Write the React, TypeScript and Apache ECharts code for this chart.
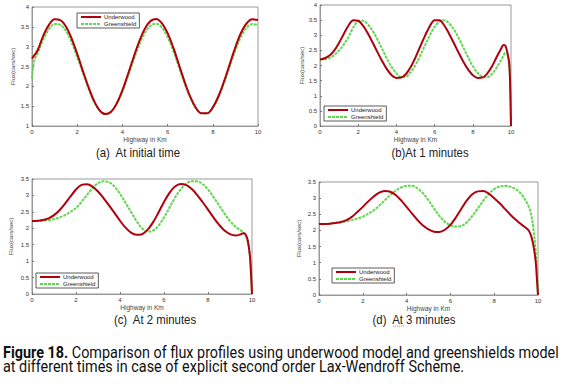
import React, { useEffect, useRef } from "react";
import * as echarts from "echarts";

const X_A = [0, 0.1, 0.25, 0.5, 0.75, 1, 1.25, 1.5, 1.75, 2, 2.25, 2.5, 2.75, 3, 3.25, 3.5, 3.75, 4, 4.25, 4.5, 4.75, 5, 5.25, 5.5, 5.75, 6, 6.25, 6.5, 6.75, 7, 7.25, 7.5, 7.75, 8, 8.25, 8.5, 8.75, 9, 9.25, 9.5, 9.75, 10];
const UNDERWOOD_A = [2.70, 2.78, 2.91, 3.28, 3.55, 3.69, 3.67, 3.51, 3.21, 2.82, 2.39, 1.98, 1.63, 1.39, 1.30, 1.36, 1.57, 1.90, 2.31, 2.74, 3.14, 3.46, 3.65, 3.70, 3.59, 3.34, 2.98, 2.55, 2.12, 1.74, 1.46, 1.32, 1.32, 1.47, 1.75, 2.13, 2.56, 2.99, 3.35, 3.59, 3.69, 3.67];
const GREENSHIELD_A = [2.20, 2.66, 2.83, 3.18, 3.44, 3.57, 3.55, 3.40, 3.11, 2.74, 2.34, 1.95, 1.61, 1.39, 1.30, 1.36, 1.56, 1.87, 2.26, 2.67, 3.05, 3.35, 3.53, 3.58, 3.48, 3.24, 2.90, 2.49, 2.08, 1.72, 1.45, 1.32, 1.32, 1.46, 1.73, 2.09, 2.50, 2.91, 3.25, 3.48, 3.57, 3.55];

const X_T = [0, 0.25, 0.5, 0.75, 1, 1.25, 1.5, 1.75, 2, 2.25, 2.5, 2.75, 3, 3.25, 3.5, 3.75, 4, 4.25, 4.5, 4.75, 5, 5.25, 5.5, 5.75, 6, 6.25, 6.5, 6.75, 7, 7.25, 7.5, 7.75, 8, 8.25, 8.5, 8.75, 9, 9.25, 9.5, 9.6, 9.7, 9.8, 9.9, 9.95, 10];
const UNDERWOOD_B = [2.20, 2.24, 2.33, 2.50, 2.75, 3.05, 3.33, 3.50, 3.48, 3.32, 3.07, 2.77, 2.45, 2.15, 1.88, 1.68, 1.59, 1.60, 1.72, 1.95, 2.27, 2.63, 2.99, 3.30, 3.50, 3.50, 3.33, 3.06, 2.75, 2.43, 2.13, 1.87, 1.68, 1.59, 1.60, 1.73, 1.97, 2.28, 2.58, 2.68, 2.66, 2.45, 2.10, 1.50, 0];
const GREENSHIELD_B = [2.20, 2.21, 2.25, 2.35, 2.50, 2.70, 2.95, 3.27, 3.46, 3.48, 3.36, 3.15, 2.87, 2.55, 2.23, 1.95, 1.74, 1.62, 1.63, 1.78, 2.02, 2.33, 2.67, 3.00, 3.28, 3.45, 3.50, 3.40, 3.20, 2.92, 2.60, 2.28, 1.98, 1.76, 1.63, 1.61, 1.72, 1.93, 2.20, 2.32, 2.42, 2.40, 2.10, 1.50, 0];
const UNDERWOOD_C = [2.22, 2.23, 2.25, 2.30, 2.40, 2.55, 2.75, 2.97, 3.18, 3.32, 3.34, 3.27, 3.12, 2.92, 2.70, 2.47, 2.23, 2.02, 1.87, 1.80, 1.82, 1.95, 2.18, 2.48, 2.80, 3.08, 3.27, 3.35, 3.32, 3.20, 3.02, 2.80, 2.57, 2.33, 2.11, 1.93, 1.82, 1.78, 1.82, 1.85, 1.82, 1.65, 1.20, 0.70, 0];
const GREENSHIELD_C = [2.22, 2.22, 2.23, 2.25, 2.28, 2.33, 2.40, 2.50, 2.62, 2.80, 3.02, 3.22, 3.37, 3.43, 3.40, 3.27, 3.05, 2.78, 2.50, 2.22, 2.00, 1.90, 1.93, 2.08, 2.33, 2.63, 2.93, 3.18, 3.35, 3.43, 3.43, 3.35, 3.18, 2.95, 2.70, 2.45, 2.22, 2.05, 1.93, 1.88, 1.80, 1.62, 1.20, 0.70, 0];
const UNDERWOOD_D = [2.20, 2.20, 2.21, 2.23, 2.26, 2.32, 2.42, 2.57, 2.73, 2.90, 3.05, 3.17, 3.22, 3.20, 3.10, 2.93, 2.73, 2.52, 2.32, 2.15, 2.03, 1.96, 1.95, 2.02, 2.17, 2.40, 2.67, 2.93, 3.12, 3.21, 3.22, 3.14, 3.00, 2.84, 2.66, 2.48, 2.32, 2.18, 2.05, 1.97, 1.80, 1.50, 1.00, 0.50, 0];
const GREENSHIELD_D = [2.20, 2.20, 2.21, 2.23, 2.25, 2.28, 2.32, 2.37, 2.43, 2.52, 2.62, 2.77, 2.93, 3.10, 3.23, 3.33, 3.38, 3.38, 3.30, 3.15, 2.93, 2.68, 2.45, 2.27, 2.16, 2.12, 2.14, 2.25, 2.45, 2.68, 2.92, 3.13, 3.28, 3.36, 3.38, 3.35, 3.27, 3.12, 2.85, 2.70, 2.45, 2.00, 1.30, 0.70, 0];

const SERIES_NAMES = ["Underwood", "Greenshield"];
const X_NAME = "Highway in Km";
const Y_NAME = "Flux(cars/sec)";
const PANEL_CAPTIONS = ["(a)  At initial time", "(b)At 1 minutes", "(c)  At 2 minutes", "(d)  At 3 minutes"];
const Y_RANGES = [[1, 4], [0, 4], [0, 3.5], [0, 3.5]];
const FIG_TITLE = "Figure 18.";
const FIG_LINE1 = " Comparison of flux profiles using underwood model and greenshields model";
const FIG_LINE2 = "at different times in case of explicit second order Lax-Wendroff Scheme.";

const RED = "#b0000e";
const GREEN = "#62d852";
const SANS = "'Liberation Sans', Arial, sans-serif";
const CAP = "Roboto, 'Liberation Sans', sans-serif";

const pairs = (xs: number[], ys: number[]) => xs.map((x, i) => [x, ys[i]]);

export default function App() {
  const ref = useRef<HTMLDivElement>(null);
  useEffect(() => {
    if (!ref.current) return;
    const chart = echarts.init(ref.current, undefined, { renderer: "svg" });
    const grids = [
      { left: 32, top: 7, width: 226, height: 119 },
      { left: 320, top: 5, width: 191, height: 121 },
      { left: 32, top: 179, width: 220, height: 115 },
      { left: 319, top: 182, width: 219, height: 113 },
    ];
    const yGaps = [16, 14, 18, 17];
    const legends = [
      { left: 77, top: 13 },
      { left: 324, top: 106 },
      { left: 36, top: 273 },
      { left: 332, top: 268 },
    ];
    const panelData = [
      [pairs(X_A, UNDERWOOD_A), pairs(X_A, GREENSHIELD_A)],
      [pairs(X_T, UNDERWOOD_B), pairs(X_T, GREENSHIELD_B)],
      [pairs(X_T, UNDERWOOD_C), pairs(X_T, GREENSHIELD_C)],
      [pairs(X_T, UNDERWOOD_D), pairs(X_T, GREENSHIELD_D)],
    ];
    const captionPos = [
      [138, 152],
      [430, 152],
      [155, 319],
      [414, 319],
    ];
    const series: any[] = [];
    panelData.forEach((pd, i) => {
      series.push({
        type: "line",
        name: SERIES_NAMES[0],
        xAxisIndex: i,
        yAxisIndex: i,
        data: pd[0],
        showSymbol: false,
        symbol: "none",
        smooth: 0.35,
        lineStyle: { color: RED, width: 2 },
        itemStyle: { color: RED },
        z: 3,
      });
      series.push({
        type: "line",
        name: SERIES_NAMES[1],
        xAxisIndex: i,
        yAxisIndex: i,
        data: pd[1],
        showSymbol: false,
        symbol: "none",
        smooth: 0.35,
        lineStyle: { color: GREEN, width: 2, type: [3, 1] },
        itemStyle: { color: GREEN },
        z: 2,
      });
    });

    const option: any = {
      animation: false,
      backgroundColor: "#ffffff",
      grid: grids.map((g) => ({ ...g, show: true, borderColor: "#9a9a9a", borderWidth: 1, backgroundColor: "#fff" })),
      xAxis: grids.map((_, i) => ({
        type: "value",
        gridIndex: i,
        min: 0,
        max: 10,
        interval: 2,
        name: X_NAME,
        nameLocation: "middle",
        nameGap: 9,
        nameTextStyle: { fontSize: 6.5, color: "#444", fontFamily: SANS },
        axisLine: { show: true, lineStyle: { color: "#9a9a9a" } },
        axisTick: { show: true, inside: true, length: 2, lineStyle: { color: "#777" } },
        axisLabel: { fontSize: 6, color: "#333", margin: 3, fontFamily: SANS },
        splitLine: { show: false },
      })),
      yAxis: grids.map((_, i) => ({
        type: "value",
        gridIndex: i,
        min: Y_RANGES[i][0],
        max: Y_RANGES[i][1],
        interval: 0.5,
        name: Y_NAME,
        nameLocation: "middle",
        nameGap: yGaps[i],
        nameRotate: 90,
        nameTextStyle: { fontSize: 6, color: "#444", fontFamily: SANS },
        axisLine: { show: true, lineStyle: { color: "#9a9a9a" } },
        axisTick: { show: true, inside: true, length: 2, lineStyle: { color: "#777" } },
        axisLabel: { fontSize: 6, color: "#333", margin: 3, fontFamily: SANS },
        splitLine: { show: false },
      })),
      legend: legends.map((l) => ({
        ...l,
        orient: "vertical",
        data: SERIES_NAMES,
        itemWidth: 20,
        itemHeight: 5,
        itemGap: 1,
        padding: [1, 3, 1, 3],
        borderColor: "#333",
        borderWidth: 0.8,
        backgroundColor: "#fff",
        selectedMode: false,
        itemStyle: { opacity: 0 },
        textStyle: { fontSize: 6, color: "#222", padding: [0, 0, 0, -2], fontFamily: SANS },
      })),
      series,
      graphic: [
        ...PANEL_CAPTIONS.map((c, i) => ({
          type: "text",
          x: captionPos[i][0],
          y: captionPos[i][1],
          scaleX: 0.95,
          style: {
            text: c,
            fontSize: 12,
            fontFamily: SANS,
            fill: "#222",
            align: "center",
            verticalAlign: "middle",
          },
        })),
        {
          type: "line",
          shape: { x1: 393, y1: 326, x2: 404, y2: 326 },
          style: { stroke: "#6cc04a", lineWidth: 1, lineDash: [1, 1] },
        },
        {
          type: "text",
          x: 3,
          y: 353,
          scaleX: 0.9,
          style: {
            text: "{b|" + FIG_TITLE + "}{n|" + FIG_LINE1 + "}",
            fontFamily: CAP,
            verticalAlign: "middle",
            fill: "#111",
            rich: {
              b: { fontSize: 16, fontWeight: "bold", fontFamily: CAP, fill: "#111" },
              n: { fontSize: 16, fontFamily: CAP, fill: "#111" },
            },
          },
        },
        {
          type: "text",
          x: 3,
          y: 366.5,
          scaleX: 0.9,
          style: {
            text: FIG_LINE2,
            fontSize: 16,
            fontFamily: CAP,
            verticalAlign: "middle",
            fill: "#111",
          },
        },
      ],
    };
    chart.setOption(option);
    return () => chart.dispose();
  }, []);
  return (
    <div
      ref={ref}
      style={{ position: "fixed", left: 0, top: 0, width: 567, height: 391, background: "#fff" }}
    />
  );
}
